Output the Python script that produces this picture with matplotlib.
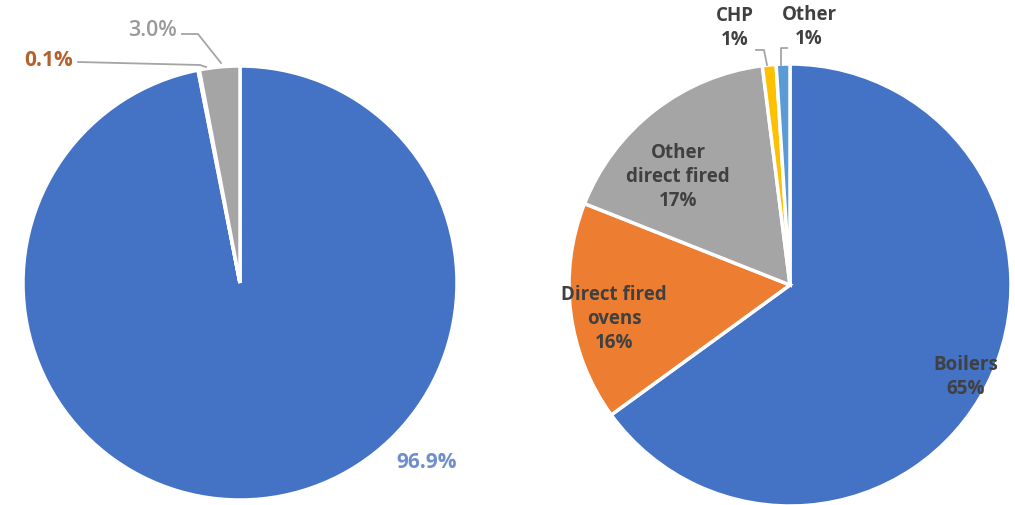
import matplotlib.pyplot as plt

plt.rcParams['font.family'] = ['Open Sans', 'DejaVu Sans']

# left pie: share of energy
left_values = [96.9, 0.1, 3.0]
left_labels = ["96.9%", "0.1%", "3.0%"]
left_colors = ["#4472C4", "#ED7D31", "#A5A5A5"]

# right pie: end use split
right_names = ["Boilers", "Direct fired\novens", "Other\ndirect fired", "CHP", "Other"]
right_values = [65, 16, 17, 1, 1]
right_colors = ["#4472C4", "#ED7D31", "#A5A5A5", "#FFC000", "#5B9BD5"]

W, H = 1015, 505
fig = plt.figure(figsize=(W / 100, H / 100), dpi=100)
ax = fig.add_axes([0, 0, 1, 1])


def py(y):
  # pixel row -> data y
  return H - y


ax.pie(left_values, colors=left_colors, startangle=90, counterclock=False,
       center=(240, py(283)), radius=217,
       wedgeprops=dict(edgecolor='white', linewidth=2.5), frame=True)
ax.pie(right_values, colors=right_colors, startangle=90, counterclock=False,
       center=(790, py(285)), radius=221,
       wedgeprops=dict(edgecolor='white', linewidth=2.5), frame=True)
ax.set_xlim(0, W)
ax.set_ylim(0, H)
ax.set_aspect('equal')
ax.axis('off')

# left pie labels
ax.text(427, py(462), left_labels[0], color="#6F8FCB", fontsize=15,
        fontweight='bold', ha='center', va='center')
ax.text(49, py(60), left_labels[1], color="#B5612B", fontsize=15,
        fontweight='bold', ha='center', va='center')
ax.text(153, py(31), left_labels[2], color="#999999", fontsize=15.5,
        fontweight='semibold', ha='center', va='center')
ax.plot([78, 200, 206], [py(62), py(65), py(67)], color="#A5A5A5", lw=1.3)
ax.plot([182, 198, 221], [py(34), py(34), py(63)], color="#A5A5A5", lw=1.3)

# right pie labels
txt = dict(color="#404040", fontsize=13.5, fontweight='bold', ha='center',
           va='center', linespacing=1.3)
ax.text(966, py(377), right_names[0] + "\n" + str(right_values[0]) + "%", **txt)
ax.text(614, py(319), right_names[1] + "\n" + str(right_values[1]) + "%", **txt)
ax.text(678, py(177), right_names[2] + "\n" + str(right_values[2]) + "%", **txt)
ax.text(735, py(28), right_names[3] + "\n" + str(right_values[3]) + "%", **txt)
ax.text(809, py(27), right_names[4] + "\n" + str(right_values[4]) + "%", **txt)
ax.plot([756, 764, 767], [py(50), py(50), py(65)], color="#A5A5A5", lw=1.3)
ax.plot([787, 781, 781], [py(48), py(48), py(65)], color="#A5A5A5", lw=1.3)

fig.savefig("out.png", dpi=100)
